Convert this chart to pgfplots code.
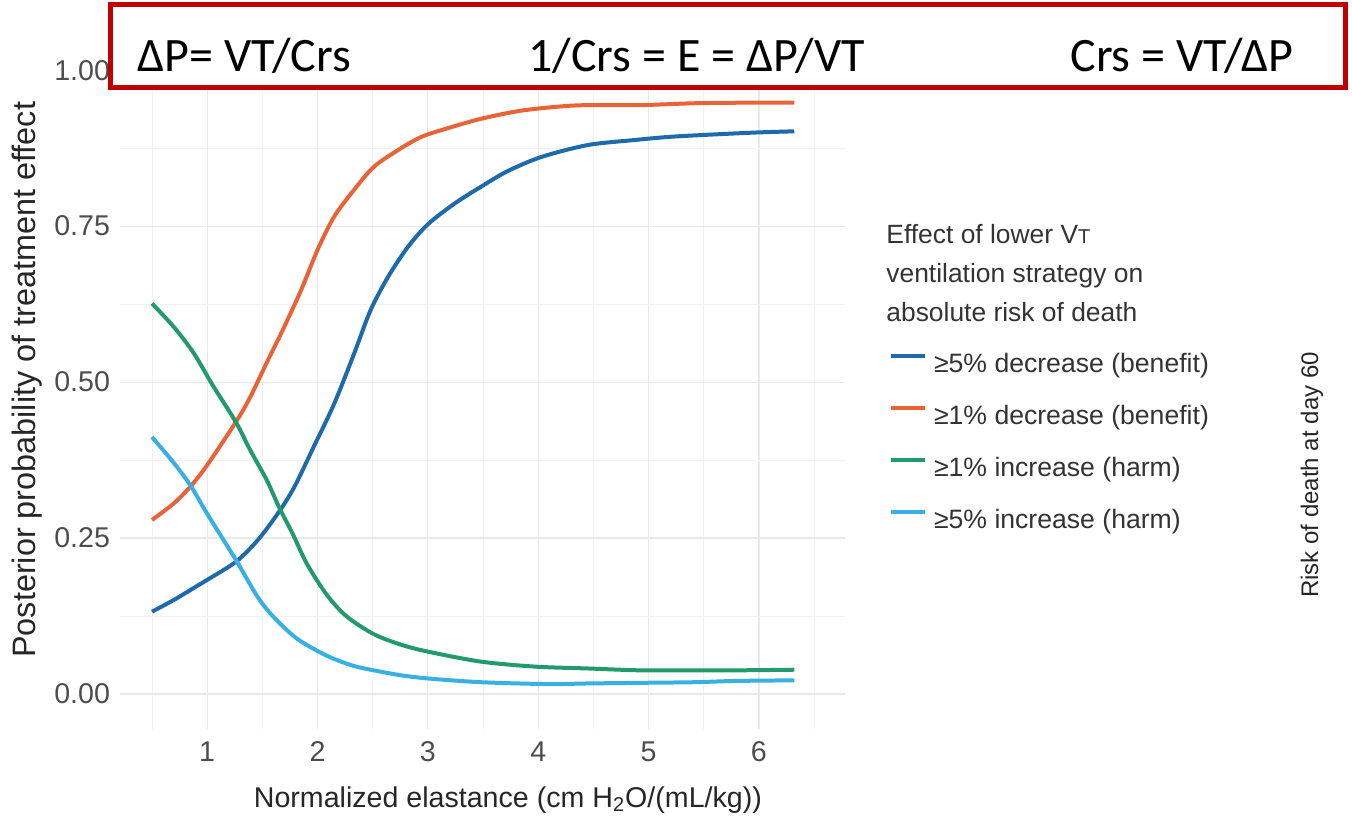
\documentclass[border=0pt]{standalone}
\usepackage{fontspec}
\setmainfont{Liberation Sans}
\newfontfamily\boxfont{Carlito}
\usepackage{pgfplots}
\pgfplotsset{compat=1.18}
\usepackage{pgfplotstable}
\definecolor{cBfive}{RGB}{30,106,170}
\definecolor{cBone}{RGB}{233,99,56}
\definecolor{cHone}{RGB}{34,154,108}
\definecolor{cHfive}{RGB}{56,176,226}
\definecolor{boxred}{RGB}{192,0,0}
\definecolor{tickgray}{RGB}{77,77,77}

\pgfplotstableread{
x y
0.50 0.132
0.70 0.151
0.85 0.167
1.00 0.183
1.26 0.212
1.46 0.247
1.65 0.292
1.79 0.332
1.97 0.398
2.15 0.465
2.33 0.545
2.48 0.615
2.64 0.669
2.82 0.717
3.00 0.753
3.24 0.786
3.48 0.813
3.72 0.838
4.03 0.861
4.45 0.880
4.87 0.888
5.18 0.893
5.48 0.896
5.96 0.900
6.32 0.902
}\tbfive

\pgfplotstableread{
x y
0.50 0.279
0.70 0.306
0.85 0.333
1.00 0.367
1.26 0.436
1.39 0.476
1.55 0.535
1.67 0.578
1.85 0.647
2.00 0.712
2.15 0.765
2.33 0.808
2.51 0.845
2.73 0.872
2.94 0.893
3.18 0.907
3.48 0.922
3.84 0.935
4.21 0.942
4.45 0.944
4.93 0.944
5.42 0.947
5.96 0.948
6.32 0.948
}\tbone

\pgfplotstableread{
x y
0.50 0.626
0.70 0.588
0.88 0.546
1.05 0.495
1.26 0.436
1.39 0.391
1.54 0.343
1.65 0.300
1.78 0.255
1.90 0.210
2.08 0.160
2.26 0.125
2.51 0.096
2.76 0.079
3.00 0.068
3.48 0.052
3.97 0.044
4.45 0.041
4.93 0.038
5.42 0.038
5.78 0.038
6.32 0.039
}\thone

\pgfplotstableread{
x y
0.50 0.412
0.70 0.370
0.85 0.334
1.00 0.289
1.26 0.215
1.46 0.155
1.61 0.122
1.82 0.088
2.09 0.061
2.33 0.045
2.57 0.036
2.76 0.030
3.00 0.025
3.48 0.019
4.09 0.016
4.45 0.017
4.93 0.018
5.42 0.019
5.78 0.021
6.32 0.022
}\thfive

\begin{document}
\begin{tikzpicture}
\path[use as bounding box] (0,0) rectangle (676pt,414pt);
\begin{axis}[
  at={(60pt,49.5pt)}, anchor=south west,
  scale only axis, width=362.5pt, height=345pt,
  xmin=0.21, xmax=6.78, ymin=-0.056, ymax=1.05,
  xtick={1,2,3,4,5,6}, ytick={0,0.25,0.5,0.75,1},
  minor xtick={0.5,1.5,2.5,3.5,4.5,5.5,6.5},
  minor ytick={0.125,0.375,0.625,0.875},
  grid=both,
  major grid style={draw=gray!17, line width=0.6pt},
  minor grid style={draw=gray!11, line width=0.5pt},
  axis line style={draw=none},
  tick style={draw=none}, major tick length=0pt, minor tick length=0pt,
  /pgf/number format/assume math mode=true,
  yticklabel style={/pgf/number format/fixed, /pgf/number format/fixed zerofill, /pgf/number format/precision=2,
     font=\fontsize{14.3}{16}\selectfont, text=tickgray, inner sep=0pt, anchor=east, xshift=-4.8pt},
  xticklabel style={font=\fontsize{14.3}{16}\selectfont, text=tickgray, inner sep=0pt, anchor=north, yshift=-6pt},
  xlabel={Normalized elastance (cm H\textsubscript{2}O/(mL/kg))},
  ylabel={Posterior probability of treatment effect},
  xlabel style={at={(axis description cs:0.535,-0.103)}, anchor=center, font=\fontsize{14.3}{17}\selectfont, text=black!85},
  ylabel style={at={(axis description cs:-0.128,0.506)}, anchor=center, font=\fontsize{16.2}{19}\selectfont, text=black!85},
  legend style={at={(axis description cs:1.0607,0.5464)}, anchor=north west, draw=none, fill=none,
     font=\fontsize{13.3}{16}\selectfont, text=black!80, row sep=13pt, inner sep=0pt,
     nodes={inner xsep=0.333em, inner ysep=0pt, text height=10pt, text depth=3pt}},
  legend cell align=left,
  legend image code/.code={\draw[#1, line width=2pt] (0pt,4.5pt) -- (17pt,4.5pt);},
  clip=false,
]
\addplot[cBfive, line width=2pt, smooth] table {\tbfive};
\addlegendentry{≥5\% decrease (benefit)}
\addplot[cBone, line width=2pt, smooth] table {\tbone};
\addlegendentry{≥1\% decrease (benefit)}
\addplot[cHone, line width=2pt, smooth] table {\thone};
\addlegendentry{≥1\% increase (harm)}
\addplot[cHfive, line width=2pt, smooth] table {\thfive};
\addlegendentry{≥5\% increase (harm)}
\end{axis}
% legend title
\node[anchor=north west, align=left, inner sep=0pt, font=\fontsize{13.2}{19.5}\selectfont, text=black!80]
  at (443pt,302pt) {Effect of lower V{\fontsize{10}{12}\selectfont T}\\ventilation strategy on\\absolute risk of death};
% right label
\node[rotate=90, font=\fontsize{12}{14}\selectfont, text=black!85] at (656pt,176.5pt) {Risk of death at day 60};
% red box
\draw[boxred, line width=2.5pt, fill=white] (55pt,370pt) rectangle (672.5pt,411.5pt);
\node[anchor=base west, inner sep=0pt, font=\boxfont\fontsize{24}{28}\selectfont] at (68.5pt,378pt) {ΔP= VT/Crs};
\node[anchor=base west, inner sep=0pt, font=\boxfont\fontsize{24}{28}\selectfont] at (264pt,378pt) {1/Crs = E = ΔP/VT};
\node[anchor=base west, inner sep=0pt, font=\boxfont\fontsize{24}{28}\selectfont] at (535pt,378pt) {Crs = VT/ΔP};
\end{tikzpicture}
\end{document}
